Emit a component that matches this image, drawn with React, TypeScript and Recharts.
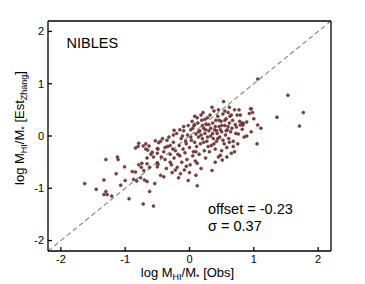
import React from 'react';
import { ScatterChart, Scatter, XAxis, YAxis, ReferenceLine, Label } from 'recharts';

const FONT = '"Liberation Sans", Arial, Helvetica, sans-serif';

const X_TICKS = [-2, -1, 0, 1, 2];
const Y_TICKS = [-2, -1, 0, 1, 2];
const DOMAIN: [number, number] = [-2.2, 2.2];
const ONE_TO_ONE = [-2.2, 2.2];

const SURVEY = 'NIBLES';
const OFFSET = -0.23;
const SIGMA = 0.37;

const lowTail: [number, number][] = [
  [-1.63, -0.91], [-1.45, -1.02], [-1.33, -1.12], [-1.28, -1.12], [-1.30, -1.06],
  [-1.21, -1.15], [-1.33, -0.84], [-1.30, -0.45], [-1.12, -0.40], [-1.11, -0.45],
  [-1.14, -0.72], [-1.01, -0.59], [-0.94, -1.20], [-1.07, -0.94], [-1.00, -0.85],
  [-0.89, -0.68], [-0.84, -0.69], [-0.79, -0.55], [-0.74, -0.52], [-0.71, -0.66],
  [-0.76, -0.80], [-0.66, -0.87], [-0.62, -1.06], [-0.72, -1.30], [-0.84, -0.23],
  [-0.68, -0.25], [-0.63, -0.19], [-0.79, -0.14], [-0.80, -0.20], [-0.72, -0.19],
  [-0.68, -0.15], [-0.65, -0.27], [-0.66, -0.53], [-0.75, -0.60], [-0.62, -0.60],
  [-0.70, -0.84], [-0.87, -0.83], [-0.82, -0.86], [-0.66, -0.42], [-0.60, -0.35],
];

const core: [number, number][] = [
  [-0.56, -1.34], [-0.54, -0.91], [-0.58, -0.31], [-0.56, -0.40], [-0.50, -0.59],
  [-0.45, -0.75], [-0.40, -0.78], [-0.50, -0.24], [-0.53, -0.09], [-0.48, -0.13],
  [-0.49, -0.25], [-0.50, -0.33], [-0.50, -0.51], [-0.49, -0.54], [-0.45, -0.10],
  [-0.42, -0.05], [-0.40, -0.30], [-0.38, -0.45], [-0.36, -0.62], [-0.34, -0.20],
  [-0.32, -0.02], [-0.30, -0.35], [-0.28, -0.55], [-0.27, -0.70], [-0.25, -0.12],
  [-0.24, -0.42], [-0.22, -0.28], [-0.20, 0.05], [-0.19, -0.60], [-0.17, -0.80],
  [-0.16, -0.18], [-0.15, -0.38], [-0.13, -0.05], [-0.12, -0.50], [-0.10, -0.25],
  [-0.09, 0.10], [-0.08, -0.65], [-0.07, -0.32], [-0.05, -0.15], [-0.04, -0.45],
  [-0.03, 0.02], [-0.02, -0.85], [0.00, -0.22], [0.01, -0.55], [0.02, 0.12],
  [0.03, -0.08], [0.05, -0.38], [0.06, -0.30], [0.07, 0.20], [0.08, -0.12],
  [0.09, -0.48], [0.10, 0.04], [0.11, -0.20], [0.12, -0.52], [0.13, 0.25],
  [0.14, -0.02], [0.15, -0.35], [0.16, 0.10], [0.17, -0.15], [0.18, -0.62],
  [0.19, 0.30], [0.20, -0.05], [0.21, 0.45], [0.22, 0.15], [0.23, -0.28],
  [0.24, 0.05], [0.25, -0.42], [0.26, 0.22], [0.27, -0.10], [0.28, 0.35],
  [0.29, -0.20], [-0.35, -0.08], [-0.26, -0.25], [-0.18, -0.35], [-0.11, 0.00],
  [-0.06, -0.10], [0.04, 0.28], [0.12, 0.35], [-0.44, -0.40], [-0.30, -0.50],
  [-0.22, -0.65], [-0.14, -0.72], [0.00, -0.70], [0.10, -0.75], [0.12, -0.95],
  [0.02, -0.02], [0.05, 0.15], [0.08, 0.22], [0.10, -0.30], [0.14, 0.08],
  [0.18, 0.02], [0.20, 0.20], [0.22, -0.12], [0.25, 0.12], [0.28, -0.02],
  [0.18, 0.40], [0.24, 0.32], [0.08, 0.38], [-0.02, 0.20], [-0.15, 0.12],
  [-0.25, 0.02], [-0.30, -0.18], [-0.38, -0.22], [-0.05, -0.58], [-0.24, 0.11],
  [-0.09, 0.18],
];

const highSide: [number, number][] = [
  [0.30, 0.10], [0.31, -0.30], [0.32, 0.40], [0.33, 0.00], [0.34, -0.18],
  [0.35, -0.66], [0.36, 0.25], [0.37, -0.05], [0.38, 0.48], [0.39, 0.12],
  [0.40, -0.25], [0.41, 0.30], [0.42, -0.10], [0.43, 0.05], [0.44, 0.38],
  [0.45, -0.40], [0.46, 0.18], [0.47, -0.02], [0.48, -0.37], [0.49, 0.28],
  [0.50, 0.08], [0.51, -0.46], [0.52, 0.42], [0.53, 0.66], [0.54, -0.15],
  [0.55, 0.20], [0.56, 0.02], [0.57, 0.33], [0.58, -0.22], [0.59, 0.12],
  [0.60, 0.45], [0.61, -0.05], [0.62, 0.25], [0.63, 0.38], [0.64, 0.08],
  [0.65, -0.33], [0.66, 0.15], [0.67, 0.30], [0.68, -0.10], [0.70, 0.50],
  [0.70, -0.30], [0.71, 0.22], [0.72, 0.05], [0.73, 0.17], [0.74, 0.40],
  [0.75, -0.15], [0.76, 0.04], [0.77, 0.50], [0.78, 0.28], [0.79, 0.40],
  [0.79, 0.21], [0.82, 0.25], [0.82, 0.13], [0.83, 0.21], [0.84, 0.24],
  [0.85, -0.02], [0.89, 0.27], [0.89, 0.00], [0.93, 0.43], [0.95, 0.52],
  [0.96, 0.52], [0.98, 0.45], [0.96, 0.08], [1.00, 0.33], [1.05, -0.15],
  [1.06, 0.21], [1.11, 0.15], [0.45, 0.50], [0.35, 0.55], [0.55, 0.48],
  [0.62, 0.55], [0.40, -0.50], [0.58, -0.40], [0.50, -0.28], [0.68, -0.20],
  [0.30, 0.22], [0.33, 0.15], [0.36, 0.05], [0.38, -0.15], [0.40, 0.18],
  [0.42, 0.10], [0.44, -0.05], [0.46, 0.30], [0.48, 0.12], [0.50, 0.20],
  [0.52, -0.08], [0.55, 0.30], [0.57, 0.10], [0.60, 0.18], [0.62, -0.12],
  [0.65, 0.40],
];

const outliers: [number, number][] = [
  [1.06, 1.09], [1.53, 0.78], [1.77, 0.45], [1.36, 0.36], [1.71, 0.19],
];

const points = [...lowTail, ...core, ...highSide, ...outliers].map(([obs, est]) => ({ obs, est }));

const axisStroke = { stroke: '#000', strokeWidth: 1.3 };
const tickText = { fill: '#000', fontSize: 11, fontFamily: FONT };

const Dot = (props: any) => (
  <circle cx={props.cx} cy={props.cy} r={1.5} fill="#7b3f3f" stroke="#5a2b2b" strokeWidth={0.5} />
);

const XTitle = (props: any) => {
  const vb = props.viewBox || {};
  const cx = vb.x + vb.width / 2 - 2;
  const y = vb.y + 26;
  return (
    <text x={cx} y={y} textAnchor="middle" fontSize={13} fontFamily={FONT} fill="#000">
      log M<tspan fontSize={9} dy={3}>HI</tspan>
      <tspan dy={-3}>/M</tspan>
      <tspan fontSize={9} dy={3}>*</tspan>
      <tspan dy={-3}> [Obs]</tspan>
    </text>
  );
};

const YTitle = () => {
  const x = 24;
  const y = 128;
  return (
    <text
      x={x}
      y={y}
      transform={`rotate(-90 ${x} ${y})`}
      textAnchor="middle"
      fontSize={13}
      fontFamily={FONT}
      fill="#000"
    >
      log M<tspan fontSize={9} dy={3}>HI</tspan>
      <tspan dy={-3}>/M</tspan>
      <tspan fontSize={9} dy={3}>*</tspan>
      <tspan dy={-3}> [Est</tspan>
      <tspan fontSize={9} dy={3}>Zhang</tspan>
      <tspan dy={-3}>]</tspan>
    </text>
  );
};

export default function App() {
  return (
    <div style={{ position: 'absolute', left: 0, top: 0, width: 365, height: 284, background: '#fff' }}>
      <ScatterChart width={365} height={284} margin={{ top: 20, right: 33, bottom: 3, left: 18 }}>
        <XAxis
          xAxisId="b"
          type="number"
          dataKey="obs"
          orientation="bottom"
          domain={DOMAIN}
          ticks={X_TICKS}
          interval={0}
          allowDataOverflow
          height={30}
          tickSize={-4}
          tickMargin={8}
          axisLine={axisStroke}
          tickLine={axisStroke}
          tick={tickText}
        >
          <Label content={XTitle} />
        </XAxis>
        <XAxis
          xAxisId="t"
          type="number"
          dataKey="obs"
          orientation="top"
          domain={DOMAIN}
          ticks={X_TICKS}
          interval={0}
          allowDataOverflow
          height={1}
          tickSize={-4}
          axisLine={axisStroke}
          tickLine={axisStroke}
          tick={false}
        />
        <YAxis
          yAxisId="l"
          type="number"
          dataKey="est"
          orientation="left"
          domain={DOMAIN}
          ticks={Y_TICKS}
          interval={0}
          allowDataOverflow
          width={30}
          tickSize={-4}
          tickMargin={8}
          axisLine={axisStroke}
          tickLine={axisStroke}
          tick={tickText}
        >
          <Label content={YTitle} />
        </YAxis>
        <YAxis
          yAxisId="r"
          type="number"
          dataKey="est"
          orientation="right"
          domain={DOMAIN}
          ticks={Y_TICKS}
          interval={0}
          allowDataOverflow
          width={1}
          tickSize={-4}
          axisLine={axisStroke}
          tickLine={axisStroke}
          tick={false}
        />
        <ReferenceLine
          xAxisId="b"
          yAxisId="l"
          segment={[
            { x: ONE_TO_ONE[0], y: ONE_TO_ONE[0] },
            { x: ONE_TO_ONE[1], y: ONE_TO_ONE[1] },
          ]}
          stroke="#8c8c8c"
          strokeWidth={1.2}
          strokeDasharray="5 3"
          ifOverflow="extendDomain"
        />
        <Scatter xAxisId="b" yAxisId="l" data={points} shape={Dot} isAnimationActive={false} />
      </ScatterChart>
      <svg
        width={365}
        height={284}
        style={{ position: 'absolute', left: 0, top: 0, pointerEvents: 'none' }}
      >
        <text x={66.5} y={48} fontSize={14.5} fontFamily={FONT} fill="#000">
          {SURVEY}
        </text>
        <text x={208} y={214} fontSize={14.5} fontFamily={FONT} fill="#000">
          offset = {OFFSET.toFixed(2)}
        </text>
        <text x={208} y={231} fontSize={14.5} fontFamily={FONT} fill="#000">
          σ = {SIGMA.toFixed(2)}
        </text>
      </svg>
    </div>
  );
}
